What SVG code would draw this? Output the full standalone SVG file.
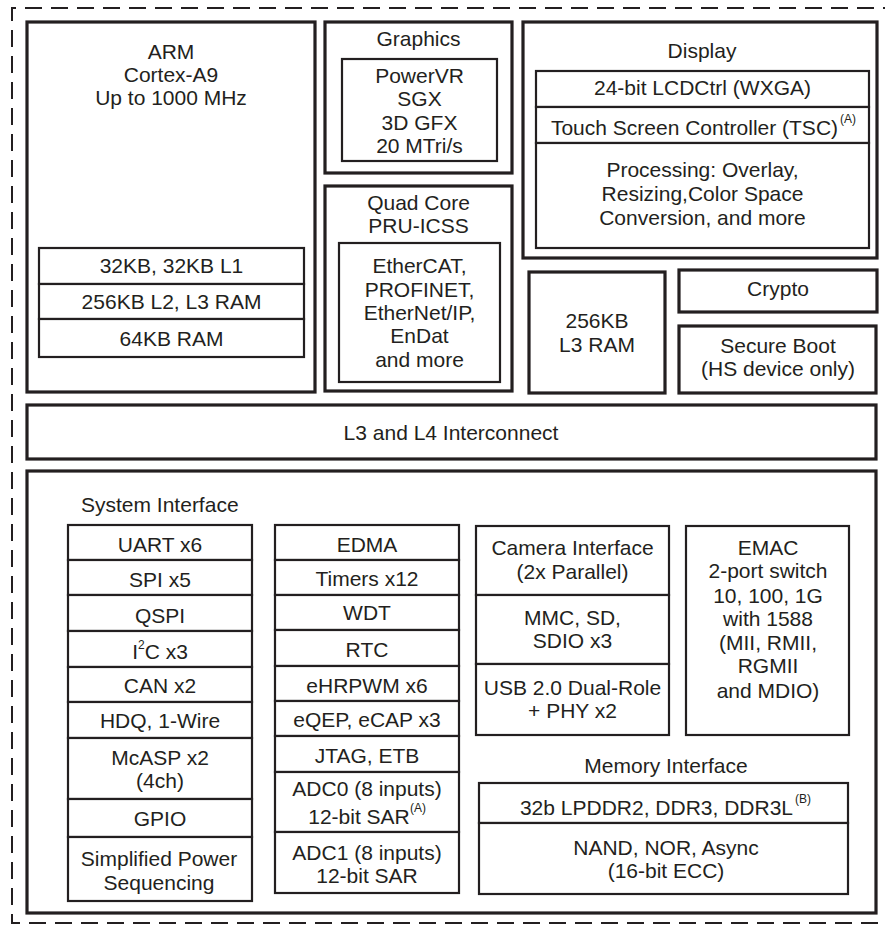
<svg xmlns="http://www.w3.org/2000/svg" width="885" height="928" viewBox="0 0 885 928">
<style>
.o{fill:#fff;stroke:#231f20;stroke-width:3.2}
.i{fill:#fff;stroke:#231f20;stroke-width:2.2}
.d{fill:none;stroke:#231f20;stroke-width:2;stroke-dasharray:17 9}
text{font-family:"Liberation Sans",Arial,sans-serif;font-size:21px;fill:#231f20;text-anchor:middle}
.s{font-size:12px}
.l{text-anchor:start}
</style>
<rect width="885" height="928" fill="#fff"/>
<path class="d" d="M900 8 H12 V923 H900"/>

<g id="arm">
<rect class="o" x="27" y="22" width="288" height="370"/>
<text x="171" y="59">ARM</text>
<text x="171" y="82">Cortex-A9</text>
<text x="171" y="105">Up to 1000 MHz</text>
<rect class="i" x="39" y="248" width="265" height="36"/>
<rect class="i" x="39" y="284" width="265" height="35"/>
<rect class="i" x="39" y="319" width="265" height="38"/>
<text x="171.5" y="273">32KB, 32KB L1</text>
<text x="171.5" y="309">256KB L2, L3 RAM</text>
<text x="171.5" y="346">64KB RAM</text>
</g>

<g id="graphics">
<rect class="o" x="325" y="22" width="187" height="151"/>
<text x="418.5" y="46">Graphics</text>
<rect class="i" x="342" y="59" width="155" height="102"/>
<text x="419.5" y="83">PowerVR</text>
<text x="419.5" y="106">SGX</text>
<text x="419.5" y="130">3D GFX</text>
<text x="419.5" y="153">20 MTri/s</text>
</g>

<g id="pru">
<rect class="o" x="325" y="186" width="187" height="205"/>
<text x="418.5" y="210">Quad Core</text>
<text x="418.5" y="233">PRU-ICSS</text>
<rect class="i" x="339" y="243" width="161" height="139"/>
<text x="419.5" y="273">EtherCAT,</text>
<text x="419.5" y="297">PROFINET,</text>
<text x="419.5" y="320">EtherNet/IP,</text>
<text x="419.5" y="343">EnDat</text>
<text x="419.5" y="367">and more</text>
</g>

<g id="display">
<rect class="o" x="523" y="22" width="354" height="236"/>
<text x="702" y="58">Display</text>
<rect class="i" x="536" y="71" width="333" height="36"/>
<rect class="i" x="536" y="107" width="333" height="36"/>
<rect class="i" x="536" y="143" width="333" height="105"/>
<text x="702.5" y="95">24-bit LCDCtrl (WXGA)</text>
<text x="694.5" y="135">Touch Screen Controller (TSC)</text>
<text class="s l" x="840" y="123">(A)</text>
<text x="702.5" y="177">Processing: Overlay,</text>
<text x="702.5" y="201">Resizing,Color Space</text>
<text x="702.5" y="225">Conversion, and more</text>
</g>

<g id="l3ram">
<rect class="o" x="529" y="272" width="136" height="121"/>
<text x="597" y="328">256KB</text>
<text x="597" y="352">L3 RAM</text>
</g>

<g id="crypto">
<rect class="o" x="679" y="270" width="198" height="42"/>
<text x="778" y="296">Crypto</text>
</g>

<g id="secureboot">
<rect class="o" x="679" y="326" width="197" height="67"/>
<text x="778" y="353">Secure Boot</text>
<text x="778" y="376">(HS device only)</text>
</g>

<g id="interconnect">
<rect class="o" x="27" y="405" width="849" height="54"/>
<text x="451" y="440">L3 and L4 Interconnect</text>
</g>

<g id="peripherals">
<rect class="o" x="27" y="471" width="849" height="442"/>
<text class="l" x="81" y="512">System Interface</text>
</g>

<g id="col1">
<rect class="i" x="68" y="525" width="184" height="35"/>
<rect class="i" x="68" y="560" width="184" height="35"/>
<rect class="i" x="68" y="595" width="184" height="36"/>
<rect class="i" x="68" y="631" width="184" height="36"/>
<rect class="i" x="68" y="667" width="184" height="35"/>
<rect class="i" x="68" y="702" width="184" height="36"/>
<rect class="i" x="68" y="738" width="184" height="61"/>
<rect class="i" x="68" y="799" width="184" height="38"/>
<rect class="i" x="68" y="837" width="184" height="64"/>
<text x="160" y="552">UART x6</text>
<text x="160" y="587">SPI x5</text>
<text x="160" y="623">QSPI</text>
<text x="160" y="659">I<tspan class="s" dy="-10">2</tspan><tspan dy="10">C x3</tspan></text>
<text x="160" y="693">CAN x2</text>
<text x="160" y="728">HDQ, 1-Wire</text>
<text x="160" y="765">McASP x2</text>
<text x="160" y="788">(4ch)</text>
<text x="160" y="826">GPIO</text>
<text x="159" y="866">Simplified Power</text>
<text x="159" y="890">Sequencing</text>
</g>

<g id="col2">
<rect class="i" x="275" y="525" width="184" height="35"/>
<rect class="i" x="275" y="560" width="184" height="35"/>
<rect class="i" x="275" y="595" width="184" height="35"/>
<rect class="i" x="275" y="630" width="184" height="36"/>
<rect class="i" x="275" y="666" width="184" height="35"/>
<rect class="i" x="275" y="701" width="184" height="35"/>
<rect class="i" x="275" y="736" width="184" height="36"/>
<rect class="i" x="275" y="772" width="184" height="60"/>
<rect class="i" x="275" y="832" width="184" height="61"/>
<text x="367" y="552">EDMA</text>
<text x="367" y="586">Timers x12</text>
<text x="367" y="620">WDT</text>
<text x="367" y="657">RTC</text>
<text x="367" y="693">eHRPWM x6</text>
<text x="367" y="727">eQEP, eCAP x3</text>
<text x="367" y="763">JTAG, ETB</text>
<text x="367" y="796">ADC0 (8 inputs)</text>
<text x="359" y="824">12-bit SAR</text>
<text class="s l" x="410" y="812">(A)</text>
<text x="367" y="860">ADC1 (8 inputs)</text>
<text x="367" y="883">12-bit SAR</text>
</g>

<g id="col3">
<rect class="i" x="476" y="526" width="193" height="69"/>
<rect class="i" x="476" y="595" width="193" height="69"/>
<rect class="i" x="476" y="664" width="193" height="71"/>
<text x="572.5" y="555">Camera Interface</text>
<text x="572.5" y="579">(2x Parallel)</text>
<text x="572.5" y="625">MMC, SD,</text>
<text x="572.5" y="648">SDIO x3</text>
<text x="572.5" y="695">USB 2.0 Dual-Role</text>
<text x="572.5" y="718">+ PHY x2</text>
</g>

<g id="emac">
<rect class="i" x="686" y="526" width="163" height="209"/>
<text x="768" y="555">EMAC</text>
<text x="768" y="578">2-port switch</text>
<text x="768" y="603">10, 100, 1G</text>
<text x="768" y="626">with 1588</text>
<text x="768" y="650">(MII, RMII,</text>
<text x="768" y="673">RGMII</text>
<text x="768" y="698">and MDIO)</text>
</g>

<g id="memory">
<text x="666" y="773">Memory Interface</text>
<rect class="i" x="479" y="783" width="369" height="40"/>
<rect class="i" x="479" y="823" width="369" height="71"/>
<text x="656.5" y="815">32b LPDDR2, DDR3, DDR3L</text>
<text class="s l" x="795" y="803">(B)</text>
<text x="666" y="855">NAND, NOR, Async</text>
<text x="666" y="878">(16-bit ECC)</text>
</g>
</svg>
